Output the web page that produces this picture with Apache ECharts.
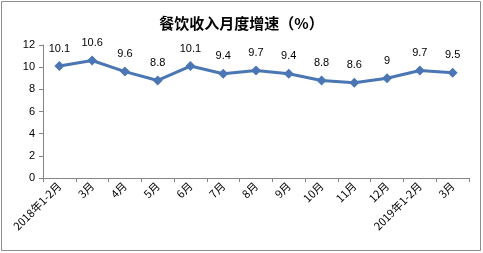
<!DOCTYPE html>
<html><head><meta charset="utf-8">
<script src="https://cdn.jsdelivr.net/npm/echarts@6/dist/echarts.min.js"></script>
<style>html,body{margin:0;padding:0;background:#fff}#c{width:483px;height:253px}</style>
</head><body><div id="c"></div>
<script>
const categories = ['2018年1-2月','3月','4月','5月','6月','7月','8月','9月','10月','11月','12月','2019年1-2月','3月'];
const values = [10.1,10.6,9.6,8.8,10.1,9.4,9.7,9.4,8.8,8.6,9,9.7,9.5];
const yTicks = [0,2,4,6,8,10,12];
const chart = echarts.init(document.getElementById('c'), null, {renderer:'canvas'});
chart.setOption({
  animation:false,
  backgroundColor:'#fff',
  title:{text:'餐饮收入月度增速（%）',left:'center',top:11,textStyle:{fontSize:15,fontWeight:'bold',color:'#000',fontFamily:'Noto Sans CJK SC'}},
  graphic:[{type:'rect',shape:{x:1.5,y:1.5,width:479,height:249},style:{fill:'none',stroke:'#8c8c8c',lineWidth:1}}],
  grid:{left:43,right:14,top:45,bottom:75,containLabel:false},
  xAxis:{type:'category',data:categories,boundaryGap:true,
    axisLine:{lineStyle:{color:'#868686'}},
    axisTick:{show:true,alignWithLabel:false,length:4,lineStyle:{color:'#868686'}},
    axisLabel:{rotate:45,interval:0,fontSize:11,color:'#000',margin:6,fontFamily:'Noto Sans CJK SC'}},
  yAxis:{type:'value',min:0,max:12,interval:2,
    axisLine:{show:true,lineStyle:{color:'#868686'}},
    axisTick:{show:true,length:4,lineStyle:{color:'#868686'}},
    splitLine:{show:false},
    axisLabel:{fontSize:11,color:'#000',margin:8,fontFamily:'Liberation Sans',
      formatter:v=>yTicks.includes(v)?String(v):''}},
  series:[{type:'line',data:values,symbol:'diamond',symbolSize:10,
    lineStyle:{color:'#4a76b3',width:3},itemStyle:{color:'#4a76b3'},
    label:{show:true,position:'top',distance:7,fontSize:11,color:'#000',fontFamily:'Liberation Sans'}}]
});
</script></body></html>
